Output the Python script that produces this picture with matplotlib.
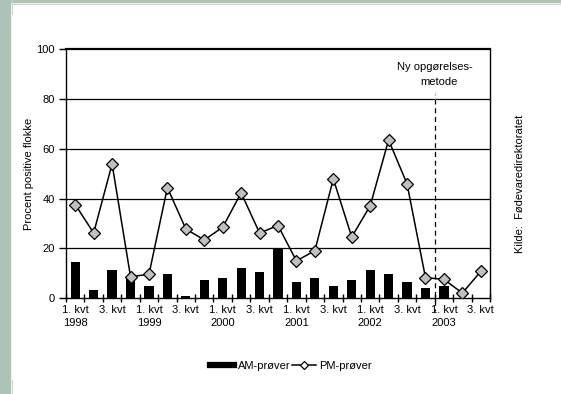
import matplotlib
matplotlib.use("Agg")
import matplotlib.pyplot as plt
from matplotlib.lines import Line2D
from matplotlib.patches import Rectangle

plt.rcParams["font.family"] = ["Liberation Sans", "DejaVu Sans"]

# quarters 1998 Q1 .. 2003 Q3
years = [1998, 1999, 2000, 2001, 2002, 2003]
n_quarters = 23
am_values = [14.7, 3.3, 11.4, 8.0, 5.0, 9.8, 0.9, 7.4, 8.2, 12.2, 10.6, 19.9,
             6.6, 8.2, 5.0, 7.4, 11.4, 9.8, 6.6, 4.1, 5.0, 0.0, 0.0]
pm_values = [37.6, 26.2, 53.9, 8.7, 9.6, 44.4, 27.8, 23.4, 28.5, 42.3, 26.2, 29.2,
             15.0, 19.1, 47.9, 24.6, 37.1, 63.5, 45.9, 8.3, 7.6, 2.1, 10.8]
y_ticks = [0, 20, 40, 60, 80, 100]
method_change = 19.5  # between 2002 Q4 and 2003 Q1

W, H = 561, 394
fig = plt.figure(figsize=(W / 100, H / 100), dpi=100)

# greenish frame strip on the left and top
fig.patches.append(Rectangle((0, 0), 10 / W, 1, transform=fig.transFigure,
                             color="#adc3b8", zorder=0))
fig.patches.append(Rectangle((0, 1 - 2 / H), 1, 2 / H, transform=fig.transFigure,
                             color="#adc3b8", zorder=0))
fig.add_artist(Line2D([12 / W, 12 / W], [1, 1 - 14 / H], color="#cfd9d3", lw=0.8))
fig.add_artist(Line2D([12 / W, 1], [1 - 3.5 / H, 1 - 3.5 / H], color="#cfd9d3", lw=0.8))
fig.add_artist(Line2D([12 / W, 12 / W], [0, 14 / H], color="#cfd9d3", lw=0.8))

ax = fig.add_axes([66 / W, 1 - 298.3 / H, 424 / W, 249.3 / H])

x = list(range(n_quarters))
ax.bar(x, am_values, width=0.5, color="black", zorder=2)
ax.plot(x, pm_values, color="black", lw=1.1, marker="D", ms=6.5,
        mfc="#c0c0c0", mec="black", mew=0.9, zorder=3)

ax.set_xlim(-0.5, n_quarters - 0.5)
ax.set_ylim(0, 100)
ax.set_yticks(y_ticks)
for yv in y_ticks[1:-1]:
    ax.axhline(yv, color="black", lw=0.9, zorder=1)

# boundaries as major ticks, labels on minor ticks at centres
ax.set_xticks([i - 0.5 for i in range(n_quarters + 1)])
ax.set_xticklabels([])
labels = []
for i in range(n_quarters):
    q = i % 4
    if q == 0:
        labels.append(f"1. kvt\n{years[i // 4]}")
    elif q == 2:
        labels.append("3. kvt")
    else:
        labels.append("")
ax.set_xticks(x, minor=True)
ax.set_xticklabels(labels, minor=True, fontsize=8, linespacing=1.35)
ax.tick_params(axis="x", which="major", direction="inout", length=6, width=1)
ax.tick_params(axis="x", which="minor", length=0, pad=5)
ax.tick_params(axis="y", direction="out", length=5, width=1, labelsize=8, pad=3)

for s in ax.spines.values():
    s.set_linewidth(1.0)
ax.spines["top"].set_linewidth(1.6)

ax.set_ylabel("Procent positive flokke", fontsize=8, labelpad=2)

# method change marker
ax.plot([method_change, method_change], [80, -5], color="black", lw=0.9,
        ls=(0, (4, 3)), clip_on=False, zorder=4)
ax.plot([method_change, method_change], [82.5, 80], color="#b0b0b0", lw=0.8,
        ls=(0, (2, 2)), zorder=4)
ax.text(method_change, 92.6, "Ny opgørelses-", ha="center", va="center", fontsize=8)
ax.text(method_change + 0.25, 86.6, "metode", ha="center", va="center", fontsize=8)

fig.text(520 / W, 1 - 184 / H, "Kilde:  Fødevaredirektoratet", rotation=90,
         ha="center", va="center", fontsize=8)

handles = [Line2D([], [], color="black", lw=4.5),
           Line2D([], [], color="black", lw=1.1, marker="D", ms=4,
                  mfc="white", mec="black", mew=0.9)]
fig.legend(handles, ["AM-prøver", "PM-prøver"], loc="center",
           bbox_to_anchor=(291 / W, 1 - 366 / H), ncol=2, frameon=False,
           fontsize=8, handlelength=2.2, handletextpad=0.3, columnspacing=0.1)

fig.savefig("out.png", dpi=100)
